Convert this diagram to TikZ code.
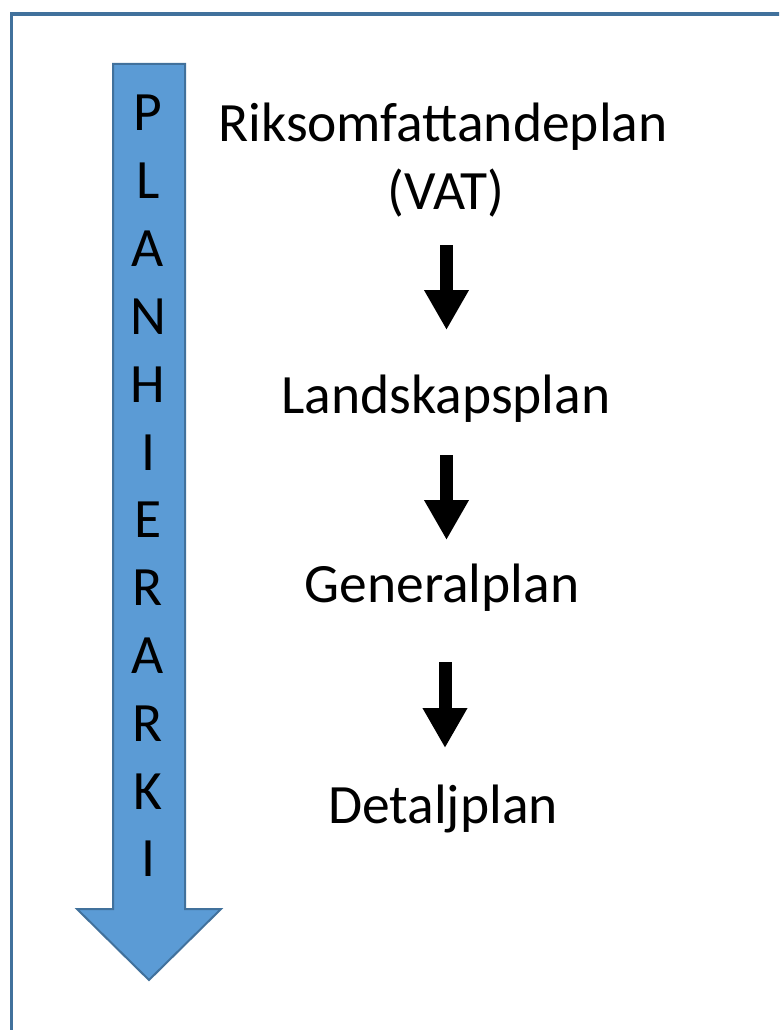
\documentclass[tikz,border=0pt]{standalone}
\usepackage{fontspec}
\setmainfont{Carlito}
\usetikzlibrary{arrows.meta}
\definecolor{fillblue}{HTML}{5B9BD5}
\definecolor{edgeblue}{HTML}{41719C}
\tikzset{
  lbl/.style={font=\fontsize{55.5}{67.5}\selectfont, anchor=base, inner sep=0pt},
  vletter/.style={font=\fontsize{55.5}{67.5}\selectfont, anchor=base, inner sep=0pt},
  blkarrow/.style={line width=13pt, -{Triangle[width=42pt,length=40pt]}, black},
  bigarrow/.style={fill=fillblue, draw=edgeblue, line width=2pt, line join=miter},
  frame/.style={draw=edgeblue, line width=3.5pt}
}
\begin{document}
\begin{tikzpicture}[x=1pt,y=-1pt]
\useasboundingbox (0,0) rectangle (779,1030);
\clip (0,0) rectangle (779,1030);
\fill[white] (0,0) rectangle (779,1030);
\draw[frame] (11.5,14) rectangle (820,1070);
% big blue arrow
\draw[bigarrow] (113,64) -- (185,64) -- (185,909) -- (221,909) -- (149,980) -- (77,909) -- (113,909) -- cycle;
% vertical letters
\foreach \ch [count=\i] in {P,L,A,N,H,I,E,R,A,R,K,I} {
  \node[vletter] (v\i) at (148,{131+67.8*(\i-1)}) {\ch};
}
% labels
\node[lbl] (r1) at (443,142) {Riksomfattandeplan};
\node[lbl] (r2) at (446,209) {(VAT)};
\node[lbl] (land) at (446,413) {Landskapsplan};
\node[lbl] (gen) at (442,602) {Generalplan};
\node[lbl] (det) at (443,823) {Detaljplan};
% black arrows
\coordinate (a1s) at (446.5,245);
\coordinate (a1e) at (446.5,330);
\coordinate (a2s) at (446.5,455);
\coordinate (a2e) at (446.5,540);
\coordinate (a3s) at (445,662);
\coordinate (a3e) at (445,748);
\draw[blkarrow] (a1s) -- (a1e);
\draw[blkarrow] (a2s) -- (a2e);
\draw[blkarrow] (a3s) -- (a3e);
\end{tikzpicture}
\end{document}
